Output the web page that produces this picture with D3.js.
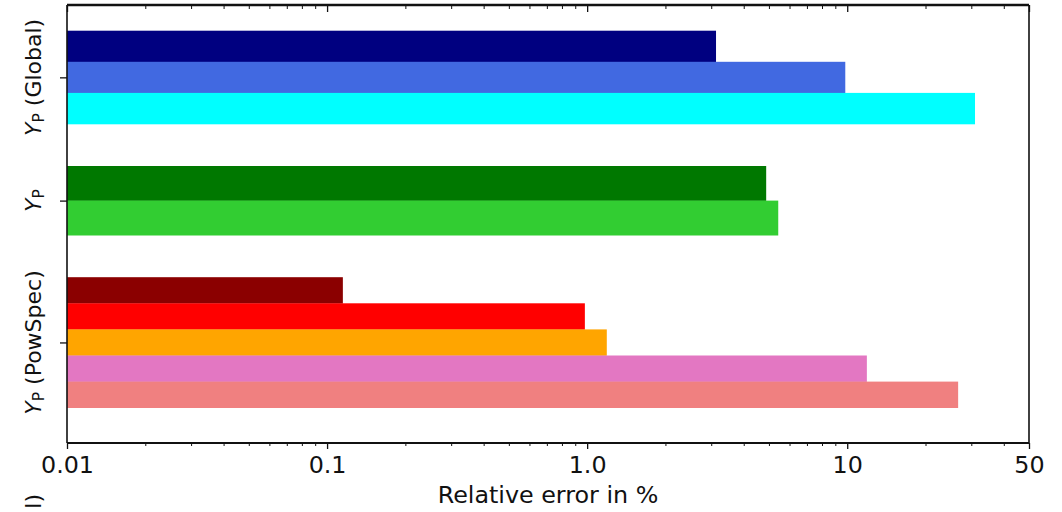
<!DOCTYPE html>
<html>
<head>
<meta charset="utf-8">
<script src="https://cdn.jsdelivr.net/npm/d3@7"></script>
<style>
  html, body { margin: 0; padding: 0; background: #fff; }
  svg { display: block; font-family: "DejaVu Sans", sans-serif; }
</style>
</head>
<body>
<svg id="chart" width="1062" height="512"></svg>
<script>
// ---- data ----
const groupKeys = ["Global", "Plain", "PowSpec"];
const groupSuffix = [" (Global)", "", " (PowSpec)"];

const globalErrors  = [3.13, 9.83, 31.0];
const plainErrors   = [4.88, 5.43];
const powSpecErrors = [0.115, 0.98, 1.19, 11.9, 26.7];

const globalColors  = ["#000080", "#4169e1", "#00ffff"];
const plainColors   = ["#007800", "#32cd32"];
const powSpecColors = ["#8b0000", "#ff0000", "#ffa500", "#e377c2", "#f08080"];

const xTickValues = [0.01, 0.1, 1, 10, 50];
const xTickLabels = ["0.01", "0.1", "1.0", "10", "50"];
const xTitle = "Relative error in %";

// ---- layout ----
const plot = { left: 67, right: 1029, top: 5, bottom: 443 };
const barThickness = { Global: 31.1, Plain: 34.6, PowSpec: 26.1 };
const firstGroupOffset = 25.7;   // space between top spine and first bar
const groupGap = 42;             // space between neighbouring groups
const fontSize = 22;             // rotated labels
const hFontSize = 23.8;          // horizontal labels
const ink = "#111";

const groups = [
  { key: "Global",  values: globalErrors,  colors: globalColors },
  { key: "Plain",   values: plainErrors,   colors: plainColors },
  { key: "PowSpec", values: powSpecErrors, colors: powSpecColors }
];

// vertical extent of each group: stacked bars, groups separated by a gap
let cursor = plot.top + firstGroupOffset;
groups.forEach(g => {
  const span = barThickness[g.key] * g.values.length;
  g.y0 = cursor;
  g.y1 = cursor + span;
  cursor = g.y1 + groupGap;
});

const svg = d3.select("#chart");

const x = d3.scaleLog().domain([0.01, 50]).range([plot.left, plot.right]);
const yGroup = d3.scaleOrdinal()
  .domain(groupKeys)
  .range(groups.map(g => (g.y0 + g.y1) / 2));

// ---- bars ----
const barLayer = svg.append("g");
groups.forEach(g => {
  const inner = d3.scaleBand()
    .domain(d3.range(g.values.length))
    .range([g.y0, g.y1]);
  barLayer.append("g").selectAll("rect")
    .data(g.values)
    .join("rect")
    .attr("x", x(0.01))
    .attr("y", (d, i) => inner(i))
    .attr("width", d => x(d) - x(0.01))
    .attr("height", inner.bandwidth() + 0.3)
    .attr("fill", (d, i) => g.colors[i]);
});

// ---- axes ----
const minorTicks = x.ticks().filter(v => !xTickValues.some(m => Math.abs(m - v) / m < 1e-9));

// bottom: major ticks with labels
const bottomMajor = svg.append("g")
  .attr("transform", `translate(0,${plot.bottom})`)
  .call(d3.axisBottom(x).tickValues(xTickValues).tickSize(6)
    .tickFormat((d, i) => xTickLabels[i]));
bottomMajor.select(".domain").remove();
bottomMajor.selectAll("line").attr("stroke", ink).attr("stroke-width", 1.3);
bottomMajor.selectAll("text")
  .attr("y", 30).attr("dy", 0)
  .attr("font-size", hFontSize)
  .attr("font-family", "DejaVu Sans")
  .attr("fill", ink);

// bottom: minor ticks
const bottomMinor = svg.append("g")
  .attr("transform", `translate(0,${plot.bottom})`)
  .call(d3.axisBottom(x).tickValues(minorTicks).tickSize(3).tickFormat(""));
bottomMinor.select(".domain").remove();
bottomMinor.selectAll("line").attr("stroke", ink).attr("stroke-width", 1);

// top: inward ticks
const topMajor = svg.append("g")
  .attr("transform", `translate(0,${plot.top})`)
  .call(d3.axisTop(x).tickValues(xTickValues).tickSize(-7).tickFormat(""));
topMajor.select(".domain").remove();
topMajor.selectAll("line").attr("stroke", ink).attr("stroke-width", 1.3);

const topMinor = svg.append("g")
  .attr("transform", `translate(0,${plot.top})`)
  .call(d3.axisTop(x).tickValues(minorTicks).tickSize(-4).tickFormat(""));
topMinor.select(".domain").remove();
topMinor.selectAll("line").attr("stroke", ink).attr("stroke-width", 1);

// left: group ticks
const leftAxis = svg.append("g")
  .attr("transform", `translate(${plot.left},0)`)
  .call(d3.axisLeft(yGroup).tickSize(7).tickFormat(""));
leftAxis.select(".domain").remove();
leftAxis.selectAll("line").attr("stroke", ink).attr("stroke-width", 1.3);

// ---- frame ----
const frame = svg.append("g").attr("stroke", ink).attr("fill", "none");
frame.append("line").attr("x1", plot.left).attr("x2", plot.right)
  .attr("y1", plot.top).attr("y2", plot.top).attr("stroke-width", 2.4);
frame.append("line").attr("x1", plot.left).attr("x2", plot.right)
  .attr("y1", plot.bottom).attr("y2", plot.bottom).attr("stroke-width", 1.8);
frame.append("line").attr("x1", plot.left).attr("x2", plot.left)
  .attr("y1", plot.top).attr("y2", plot.bottom).attr("stroke-width", 1.6);
frame.append("line").attr("x1", plot.right).attr("x2", plot.right)
  .attr("y1", plot.top).attr("y2", plot.bottom).attr("stroke-width", 1.6);

// ---- group labels: Y_P with optional suffix, rotated ----
function yLabel(sel, suffix) {
  sel.append("tspan").attr("font-style", "italic").text("Y");
  sel.append("tspan").attr("font-size", fontSize * 0.7).attr("dy", fontSize * 0.12).text("P");
  if (suffix) {
    sel.append("tspan").attr("dy", -fontSize * 0.12).text(suffix);
  }
}

groupKeys.forEach((k, i) => {
  const t = svg.append("text")
    .attr("transform", `translate(41,${yGroup(k)}) rotate(-90)`)
    .attr("text-anchor", "middle")
    .attr("font-size", fontSize)
    .attr("fill", ink);
  yLabel(t, groupSuffix[i]);
});

// tail of the next panel's axis label at the lower edge
svg.append("text")
  .attr("transform", `translate(41,494) rotate(-90)`)
  .attr("text-anchor", "end")
  .attr("font-size", fontSize)
  .attr("fill", ink)
  .text("l)");

// ---- x title ----
svg.append("text")
  .attr("x", (plot.left + plot.right) / 2)
  .attr("y", 503)
  .attr("text-anchor", "middle")
  .attr("font-size", hFontSize)
  .attr("fill", ink)
  .text(xTitle);
</script>
</body>
</html>
